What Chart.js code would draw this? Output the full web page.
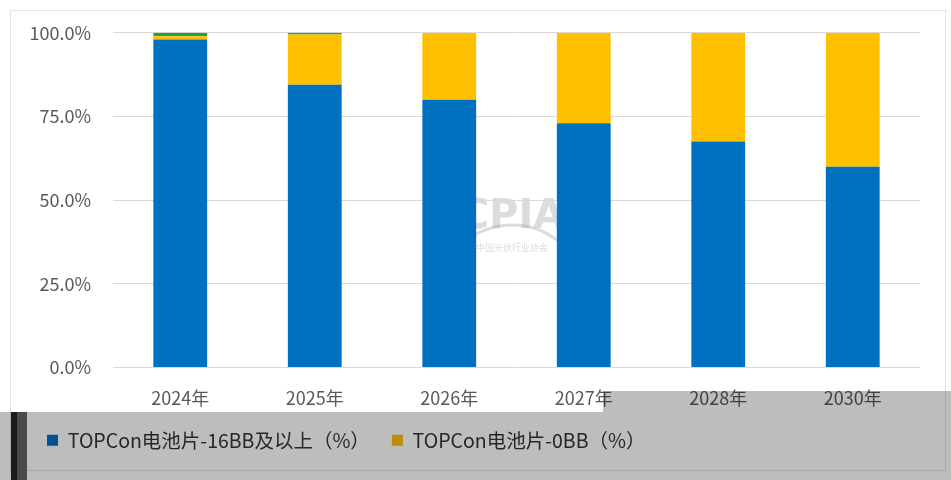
<!DOCTYPE html>
<html>
<head>
<meta charset="utf-8">
<script src="https://cdn.jsdelivr.net/npm/chart.js@4.4.1/dist/chart.umd.min.js"></script>
<style>
  html, body { margin: 0; padding: 0; background: #ffffff; }
  #wrap { width: 951px; height: 480px; position: relative; }
</style>
</head>
<body>
<div id="wrap"><canvas id="tcell_chart" width="951" height="480"></canvas></div>
<script>
// 数据：TOPCon 电池片主栅数量占比
const year_labels    = ['2024年', '2025年', '2026年', '2027年', '2028年', '2030年']
const bb16_plus_perc = [98.0, 84.5, 80.0, 73.0, 67.5, 60.0]
const bb0_perc       = [1.0, 15.0, 20.0, 27.0, 32.5, 40.0]
const bb9_11_perc    = [1.0, 0.5, 0, 0, 0, 0]
const y_tick_values  = [0, 25, 50, 75, 100]

const font_family = '"Noto Sans CJK SC", "Noto Sans", sans-serif'
const legend_left = 25   // first legend box sits at legend_left + labels.padding

// gray band under the legend + frame + watermark
const backdrop_plugin = {
  id: 'backdrop_plugin',
  beforeLayout(chart) {
    // keep the three legend items on one row
    const lg = chart.legend
    if (lg && !lg._one_row) {
      const legend_fit = lg.fit
      lg.fit = function () { this.maxWidth = 1000; legend_fit.call(this) }
      lg._one_row = true
    }
  },
  afterLayout(chart) {
    const lg = chart.legend
    if (lg) {
      lg.left = legend_left
      lg.right = 1000
    }
  },
  beforeDraw(chart) {
    const ctx = chart.ctx
    ctx.save()
    ctx.fillStyle = '#ffffff'
    ctx.fillRect(0, 0, chart.width, chart.height)
    ctx.strokeStyle = '#e3e3e3'
    ctx.lineWidth = 1
    ctx.strokeRect(10.5, 10.5, 935, 460)
    // watermark
    ctx.globalAlpha = 0.35
    ctx.fillStyle = '#9a9a9a'
    ctx.font = 'bold 40px "DejaVu Sans", sans-serif'
    ctx.textAlign = 'center'
    ctx.fillText('CPIA', 512, 218)
    ctx.strokeStyle = '#9a9a9a'
    ctx.lineWidth = 3
    ctx.beginPath()
    ctx.arc(512, 300, 75, Math.PI * 1.2, Math.PI * 1.8)
    ctx.stroke()
    ctx.font = '9px "Noto Sans CJK SC", sans-serif'
    ctx.fillText('中国光伏行业协会', 512, 248)
    ctx.restore()
  },
  afterDraw(chart) {
    const ctx = chart.ctx
    ctx.save()
    ctx.globalCompositeOperation = 'multiply'
    ctx.fillStyle = '#bdbdbd'
    ctx.fillRect(0, 412, chart.width, chart.height - 412)
    ctx.fillRect(603, 391, chart.width - 603, 21)
    ctx.globalCompositeOperation = 'source-over'
    ctx.fillStyle = '#1a1a1a'
    ctx.fillRect(11, 412, 6, chart.height - 412)
    ctx.fillStyle = '#4a4a4a'
    ctx.fillRect(17, 412, 10, chart.height - 412)
    ctx.restore()
  }
}

const ctx = document.getElementById('tcell_chart').getContext('2d')

const chart = new Chart(ctx, {
  type: 'bar',
  data: {
    labels: year_labels,
    datasets: [
      {
        label: 'TOPCon电池片-16BB及以上（%）',
        data: bb16_plus_perc,
        backgroundColor: '#0070C0',
        barPercentage: 0.4,
        categoryPercentage: 1.0
      },
      {
        label: 'TOPCon电池片-0BB（%）',
        data: bb0_perc,
        backgroundColor: '#FFC000',
        barPercentage: 0.4,
        categoryPercentage: 1.0
      },
      {
        label: 'TOPCon电池片-9/10/11BB（%）',
        data: bb9_11_perc,
        backgroundColor: '#2E9E3A',
        barPercentage: 0.4,
        categoryPercentage: 1.0
      }
    ]
  },
  plugins: [backdrop_plugin],
  options: {
    responsive: false,
    animation: false,
    layout: {
      padding: { left: 10, right: 31, top: 26, bottom: 20 }
    },
    plugins: {
      legend: {
        position: 'bottom',
        align: 'start',
        labels: {
          boxWidth: 11,
          boxHeight: 11,
          padding: 22,
          color: '#333333',
          font: { family: font_family, size: 19.5 }
        }
      },
      tooltip: { enabled: false }
    },
    scales: {
      x: {
        stacked: true,
        grid: { display: false, drawTicks: false },
        border: { display: false },
        ticks: {
          color: '#595959',
          padding: 20,
          font: { family: font_family, size: 18 }
        },
        afterFit: (scale) => { scale.height = 41 }
      },
      y: {
        stacked: true,
        min: 0,
        max: 100,
        afterBuildTicks: (scale) => {
          scale.ticks = y_tick_values.map(v => ({ value: v }))
        },
        grid: { color: '#d9d9d9', drawTicks: false },
        border: { display: false },
        ticks: {
          color: '#595959',
          padding: 22,
          font: { family: font_family, size: 18 },
          callback: (value) => value.toFixed(1) + '%'
        },
        afterFit: (scale) => { scale.width = 103 }
      }
    }
  }
})
chart.update()
</script>
</body>
</html>
